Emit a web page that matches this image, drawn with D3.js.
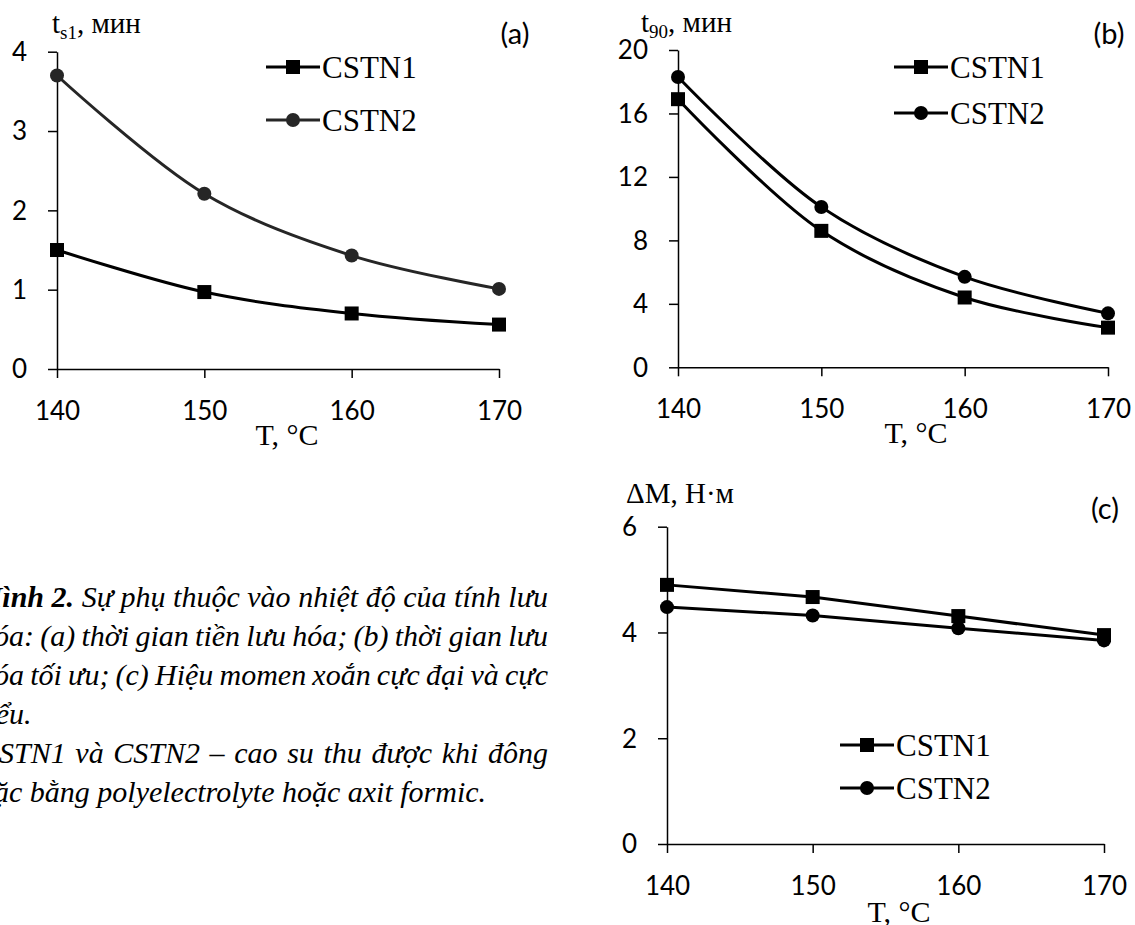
<!DOCTYPE html>
<html>
<head>
<meta charset="utf-8">
<title>Hình 2</title>
<script src="https://d3js.org/d3.v7.min.js"></script>
<style>
  body { margin: 0; background: #fff; }
  svg text { font-family: Lato, "Open Sans", sans-serif; }
  svg text.serif { font-family: "Liberation Serif", "Times New Roman", "DejaVu Serif", serif; }
</style>
</head>
<body>
<svg id="fig" width="1135" height="925"></svg>
<script>
// shared x values
var temps = [140, 150, 160, 170];
var seriesNames = ["CSTN1", "CSTN2"];

// (a) t_s1, min
var ts1Cstn1 = [1.50, 0.97, 0.70, 0.56];
var ts1Cstn2 = [3.70, 2.21, 1.43, 1.01];
var ts1Ticks = [0, 1, 2, 3, 4];

// (b) t90, min
var t90Cstn1 = [16.9, 8.6, 4.4, 2.5];
var t90Cstn2 = [18.3, 10.1, 5.7, 3.4];
var t90Ticks = [0, 4, 8, 12, 16, 20];

// (c) delta M, N*m
var dmCstn1 = [4.90, 4.67, 4.31, 3.95];
var dmCstn2 = [4.48, 4.32, 4.08, 3.85];
var dmTicks = [0, 2, 4, 6];

// caption (the left edge of the page is cut off in the original)
var captionLines = [
  {bold: "Hình 2.", text: " Sự phụ thuộc vào nhiệt độ của tính lưu", justify: true},
  {text: "hóa: (a) thời gian tiền lưu hóa; (b) thời gian lưu", justify: true},
  {text: "hóa tối ưu; (c) Hiệu momen xoắn cực đại và cực", justify: true},
  {text: "tiểu."},
  {text: "CSTN1 và CSTN2 – cao su thu được khi đông", justify: true},
  {text: "đặc bằng polyelectrolyte hoặc axit formic."}
];

var svg = d3.select("#fig");

var panels = [
  {tag: "(a)", s1: ts1Cstn1, s2: ts1Cstn2, ticks: ts1Ticks,
   x0: 57, x1: 499, yTop: 51.7, yBot: 369, smooth: true, c2: "#262626",
   title: ["t", "s1", ", мин"], titleX: 52, titleY: 33,
   tagX: 515, tagY: 44, legX: 266, legY: [67, 120], xlabX: 287, xlabY: 445},
  {tag: "(b)", s1: t90Cstn1, s2: t90Cstn2, ticks: t90Ticks,
   x0: 678, x1: 1108, yTop: 50, yBot: 367.3, smooth: true, c2: "#000",
   title: ["t", "90", ", мин"], titleX: 641, titleY: 32,
   tagX: 1109, tagY: 44, legX: 894, legY: [67, 113], xlabX: 916, xlabY: 443},
  {tag: "(c)", s1: dmCstn1, s2: dmCstn2, ticks: dmTicks,
   x0: 667, x1: 1104, yTop: 526.7, yBot: 844, smooth: false, c2: "#000",
   title: ["ΔM, Н·м"], titleX: 626, titleY: 503,
   tagX: 1105, tagY: 519, legX: 840, legY: [745, 788], xlabX: 899, xlabY: 922}
];

function drawPanel(p) {
  var x = d3.scaleLinear().domain([140, 170]).range([p.x0, p.x1]);
  var y = d3.scaleLinear().domain([0, d3.max(p.ticks)]).range([p.yBot, p.yTop]);
  var g = svg.append("g");

  // y axis
  var ya = g.append("g")
    .attr("transform", "translate(" + p.x0 + ",0)")
    .call(d3.axisLeft(y).tickValues(p.ticks).tickFormat(d3.format("d"))
      .tickSize(9).tickSizeOuter(0).tickPadding(21));
  // x axis
  var xa = g.append("g")
    .attr("transform", "translate(0," + p.yBot + ")")
    .call(d3.axisBottom(x).tickValues(temps).tickFormat(d3.format("d"))
      .tickSize(9).tickSizeOuter(0));

  [ya, xa].forEach(function(a) {
    a.select(".domain").attr("stroke", "#000").attr("stroke-width", 1.5);
    a.selectAll(".tick line").attr("stroke", "#000").attr("stroke-width", 1.5);
    a.selectAll(".tick text").attr("fill", "#000").style("font-size", "26px");
  });
  ya.selectAll(".tick text").attr("dy", "0.34em");
  xa.selectAll(".tick text").attr("y", 51).attr("dy", 0);

  // series
  var line = d3.line()
    .x(function(d, i) { return x(temps[i]); })
    .y(function(d) { return y(d); })
    .curve(p.smooth ? d3.curveCatmullRom.alpha(0.5) : d3.curveLinear);

  var series = [{vals: p.s1, color: "#000", shape: "square"},
                {vals: p.s2, color: p.c2, shape: "circle"}];

  series.forEach(function(s) {
    g.append("path")
      .attr("d", line(s.vals))
      .attr("fill", "none")
      .attr("stroke", s.color)
      .attr("stroke-width", 3);
    drawMarkers(g, s, s.vals.map(function(v, i) { return [x(temps[i]), y(v)]; }));
  });

  // legend
  series.forEach(function(s, i) {
    var ly = p.legY[i];
    g.append("line")
      .attr("x1", p.legX).attr("x2", p.legX + 54)
      .attr("y1", ly).attr("y2", ly)
      .attr("stroke", s.color).attr("stroke-width", 3);
    drawMarkers(g, s, [[p.legX + 27, ly]]);
    g.append("text").attr("class", "serif")
      .attr("x", p.legX + 56).attr("y", ly + 10.5)
      .style("font-size", "31px")
      .text(seriesNames[i]);
  });

  // y title
  var t = g.append("text").attr("class", "serif")
    .attr("x", p.titleX).attr("y", p.titleY)
    .style("font-size", "29px");
  t.append("tspan").text(p.title[0]);
  if (p.title.length > 1) {
    t.append("tspan").attr("dy", 6).style("font-size", "19px").text(p.title[1]);
    t.append("tspan").attr("dy", -6).text(p.title[2]);
  }

  // panel tag
  g.append("text")
    .attr("x", p.tagX).attr("y", p.tagY)
    .attr("text-anchor", "middle")
    .style("font-size", "29px")
    .text(p.tag);

  // x title
  g.append("text").attr("class", "serif")
    .attr("x", p.xlabX).attr("y", p.xlabY)
    .attr("text-anchor", "middle")
    .style("font-size", "30px")
    .text("T, °C");
}

function drawMarkers(g, s, pts) {
  if (s.shape === "square") {
    g.selectAll(null).data(pts).enter().append("rect")
      .attr("x", function(d) { return d[0] - 7; })
      .attr("y", function(d) { return d[1] - 7; })
      .attr("width", 14).attr("height", 14)
      .attr("fill", s.color);
  } else {
    g.selectAll(null).data(pts).enter().append("circle")
      .attr("cx", function(d) { return d[0]; })
      .attr("cy", function(d) { return d[1]; })
      .attr("r", 7)
      .attr("fill", s.color);
  }
}

panels.forEach(drawPanel);

// caption block: justified paragraph whose left margin lies off the page
var capLeft = -21, capRight = 548, capTop = 607, capStep = 39;
captionLines.forEach(function(l, i) {
  var txt = svg.append("text").attr("class", "serif")
    .attr("x", capLeft)
    .attr("y", capTop + i * capStep)
    .style("font-size", "30px")
    .style("font-style", "italic");
  if (l.bold) txt.append("tspan").style("font-weight", "bold").text(l.bold);
  txt.append("tspan").text(l.text);
  if (l.justify) {
    var full = (l.bold || "") + l.text;
    var spaces = full.split(" ").length - 1;
    var natural = txt.node().getComputedTextLength();
    txt.style("word-spacing", ((capRight - capLeft - natural) / spaces) + "px");
  }
});
</script>
</body>
</html>
